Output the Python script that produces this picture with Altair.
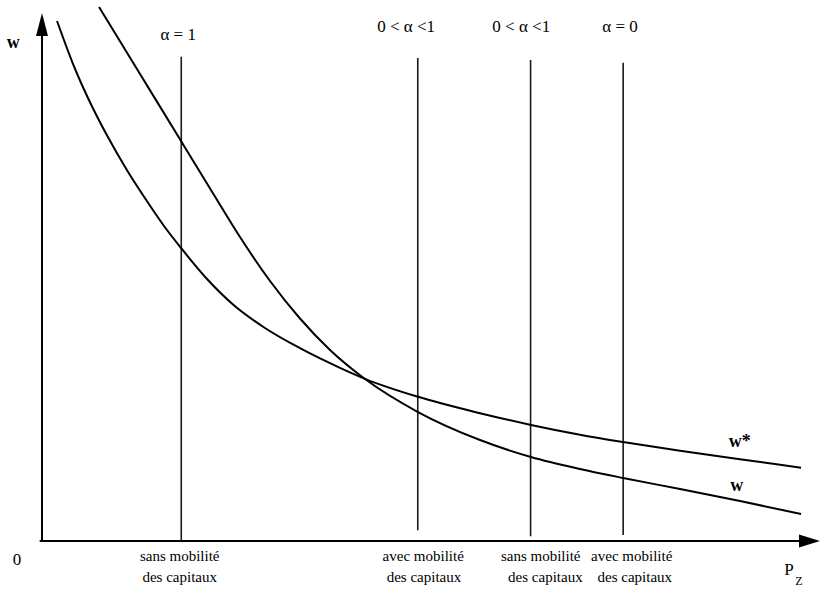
import altair as alt
import pandas as pd

# Curves (data units: P_Z on x from 0 to 10, w on y from 0 to 10)
# w* : flatter curve, upper one on the right
wstar_x = [0.193, 0.296, 0.398, 0.514, 0.617, 0.835, 1.093, 1.350, 1.568, 1.787, 2.121, 2.455, 2.841, 3.316,
           3.830, 4.152, 4.833, 5.630, 6.285, 6.915, 7.468, 8.201, 8.972, 9.756]
wstar_y = [9.612, 9.205, 8.821, 8.429, 8.111, 7.499, 6.852, 6.279, 5.823, 5.416, 4.843, 4.372, 3.961, 3.564,
           3.201, 2.998, 2.665, 2.362, 2.146, 1.965, 1.830, 1.667, 1.512, 1.355]
# w : steeper curve, lower one on the right
w_x = [0.733, 1.260, 1.787, 2.211, 2.545, 2.931, 3.316, 3.702, 4.152, 4.833, 5.630, 6.285, 6.915, 7.468,
       8.201, 8.972, 9.756]
w_y = [9.871, 8.632, 7.394, 6.396, 5.619, 4.806, 4.113, 3.531, 2.994, 2.384, 1.867, 1.553, 1.331, 1.165,
       0.961, 0.739, 0.499]

# Vertical regime lines
vline_x = [1.79, 4.83, 6.28, 7.47]
vline_top = [8.95, 8.93, 8.89, 8.84]
vline_bottom = [0.0, 0.20, 0.09, 0.11]

# Regime labels (top)
top_labels = ["\u03b1 = 1", "0 < \u03b1 <1", "0 < \u03b1 <1", "\u03b1 = 0"]
top_x = [1.75, 4.68, 6.16, 7.43]
top_y = [9.26, 9.41, 9.41, 9.41]

# Bottom labels (two lines)
bottom_line1 = ["sans mobilit\u00e9", "avec  mobilit\u00e9", "sans  mobilit\u00e9", "avec mobilit\u00e9"]
bottom_line2 = ["des capitaux", "des capitaux", "des capitaux", "des capitaux"]
bottom_x1 = [1.77, 4.90, 6.41, 7.58]
bottom_x2 = [1.77, 4.91, 6.47, 7.62]
bottom_y1 = -0.37
bottom_y2 = -0.76

# Curve labels
curve_labels = ["w*", "w"]
curve_label_x = [8.97, 8.93]
curve_label_y = [1.74, 0.92]

FONT = "Liberation Serif"

xs = alt.Scale(domain=[0, 10], nice=False, zero=False)
ys = alt.Scale(domain=[0, 10], nice=False, zero=False)


def X(f="x"):
    return alt.X(f"{f}:Q", scale=xs, axis=None)


def Y(f="y"):
    return alt.Y(f"{f}:Q", scale=ys, axis=None)


curves = pd.DataFrame(
    [{"x": a, "y": b, "s": "w*"} for a, b in zip(wstar_x, wstar_y)]
    + [{"x": a, "y": b, "s": "w"} for a, b in zip(w_x, w_y)]
)
curve_layer = alt.Chart(curves).mark_line(
    color="black", strokeWidth=2, interpolate="monotone", clip=False
).encode(x=X(), y=Y(), detail="s:N", order="x:Q")

vlines = pd.DataFrame({"x": vline_x, "y": vline_bottom, "y2": vline_top})
vline_layer = alt.Chart(vlines).mark_rule(color="#1a1a1a", strokeWidth=1.6).encode(
    x=X(), y=Y(), y2="y2:Q"
)

# Axes
xaxis = alt.Chart(pd.DataFrame({"x": [-0.03], "x2": [9.74], "y": [0.0]})).mark_rule(
    color="black", strokeWidth=2
).encode(x=X(), x2="x2:Q", y=Y())
yaxis = alt.Chart(pd.DataFrame({"x": [0.0], "y": [0.0], "y2": [9.45]})).mark_rule(
    color="black", strokeWidth=2
).encode(x=X(), y=Y(), y2="y2:Q")
yarrow = alt.Chart(pd.DataFrame({"x": [0.0], "y": [9.76]})).mark_point(
    shape="M0,0 L-0.52,2 L0.52,2 Z", size=529, filled=True, color="black",
    opacity=1, strokeWidth=0
).encode(x=X(), y=Y())
xarrow = alt.Chart(pd.DataFrame({"x": [10.0], "y": [0.0]})).mark_point(
    shape="M0,0 L-2,-0.62 L-2,0.62 Z", size=441, filled=True, color="black",
    opacity=1, strokeWidth=0
).encode(x=X(), y=Y())

top_df = pd.DataFrame({"x": top_x, "y": top_y, "t": top_labels})
top_layer = alt.Chart(top_df).mark_text(
    font=FONT, fontSize=17, align="center", baseline="alphabetic", color="black"
).encode(x=X(), y=Y(), text="t:N")

bot_df = pd.DataFrame(
    {"x": bottom_x1 + bottom_x2,
     "y": [bottom_y1] * 4 + [bottom_y2] * 4,
     "t": bottom_line1 + bottom_line2}
)
bot_layer = alt.Chart(bot_df).mark_text(
    font=FONT, fontSize=15, align="center", baseline="alphabetic", color="black"
).encode(x=X(), y=Y(), text="t:N")

cl_df = pd.DataFrame({"x": curve_label_x, "y": curve_label_y, "t": curve_labels})
cl_layer = alt.Chart(cl_df).mark_text(
    font=FONT, fontSize=18, fontWeight="bold", align="center", baseline="alphabetic", color="black"
).encode(x=X(), y=Y(), text="t:N")

axis_w = alt.Chart(pd.DataFrame({"x": [-0.37], "y": [9.11], "t": ["w"]})).mark_text(
    font=FONT, fontSize=18, fontWeight="bold", align="center", baseline="alphabetic", color="black"
).encode(x=X(), y=Y(), text="t:N")
origin = alt.Chart(pd.DataFrame({"x": [-0.32], "y": [-0.44], "t": ["0"]})).mark_text(
    font=FONT, fontSize=17, align="center", baseline="alphabetic", color="black"
).encode(x=X(), y=Y(), text="t:N")
p_lab = alt.Chart(pd.DataFrame({"x": [9.60], "y": [-0.63], "t": ["P"]})).mark_text(
    font=FONT, fontSize=17, align="center", baseline="alphabetic", color="black"
).encode(x=X(), y=Y(), text="t:N")
z_lab = alt.Chart(pd.DataFrame({"x": [9.73], "y": [-0.81], "t": ["Z"]})).mark_text(
    font=FONT, fontSize=12, align="center", baseline="alphabetic", color="black"
).encode(x=X(), y=Y(), text="t:N")

chart = alt.layer(
    vline_layer, curve_layer, xaxis, yaxis, yarrow, xarrow,
    top_layer, bot_layer, cl_layer, axis_w, origin, p_lab, z_lab
).properties(
    width=778, height=541,
    padding={"left": 42, "top": 0, "right": 0, "bottom": 49},
    autosize=alt.AutoSizeParams(type="none"),
    background="white",
).configure_view(stroke=None)

chart.save("out.html", embed_options={"renderer": "svg", "actions": False})
